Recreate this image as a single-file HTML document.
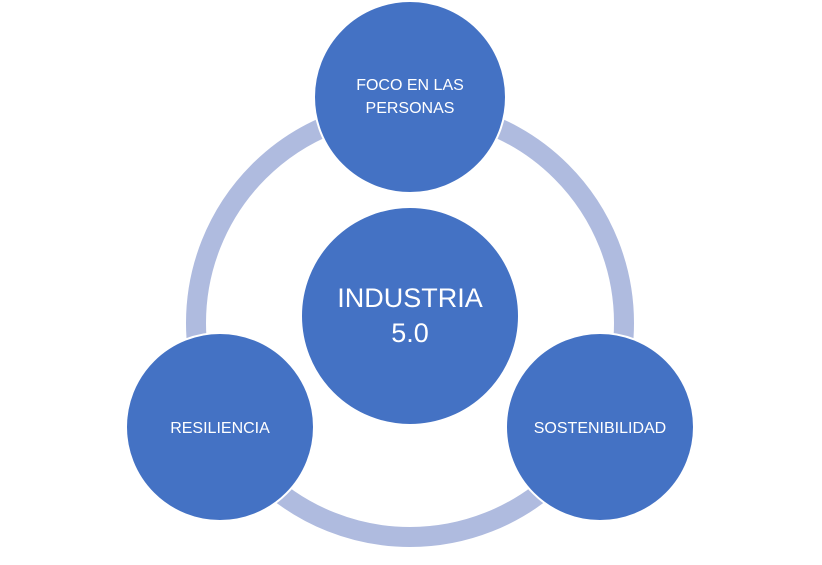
<!DOCTYPE html>
<html><head><style>
body{margin:0;background:#fff;}
svg text{font-family:"Liberation Sans",sans-serif;fill:#fff;text-anchor:middle;}
</style></head><body>
<svg width="822" height="560" xmlns="http://www.w3.org/2000/svg">
<circle cx="410" cy="323" r="214" fill="none" stroke="#afbbdf" stroke-width="20"/>
<g fill="#4472c4" stroke="#fff" stroke-width="2">
<circle cx="410" cy="97" r="96"/>
<circle cx="410" cy="316" r="109"/>
<circle cx="220" cy="427" r="94"/>
<circle cx="600" cy="427" r="94"/>
</g>
<text x="410" y="90" font-size="16">FOCO EN LAS</text>
<text x="410" y="113" font-size="16">PERSONAS</text>
<text x="410" y="307" font-size="27">INDUSTRIA</text>
<text x="410" y="342" font-size="27">5.0</text>
<text x="220" y="433" font-size="16">RESILIENCIA</text>
<text x="600" y="433" font-size="16">SOSTENIBILIDAD</text>
</svg>
</body></html>
